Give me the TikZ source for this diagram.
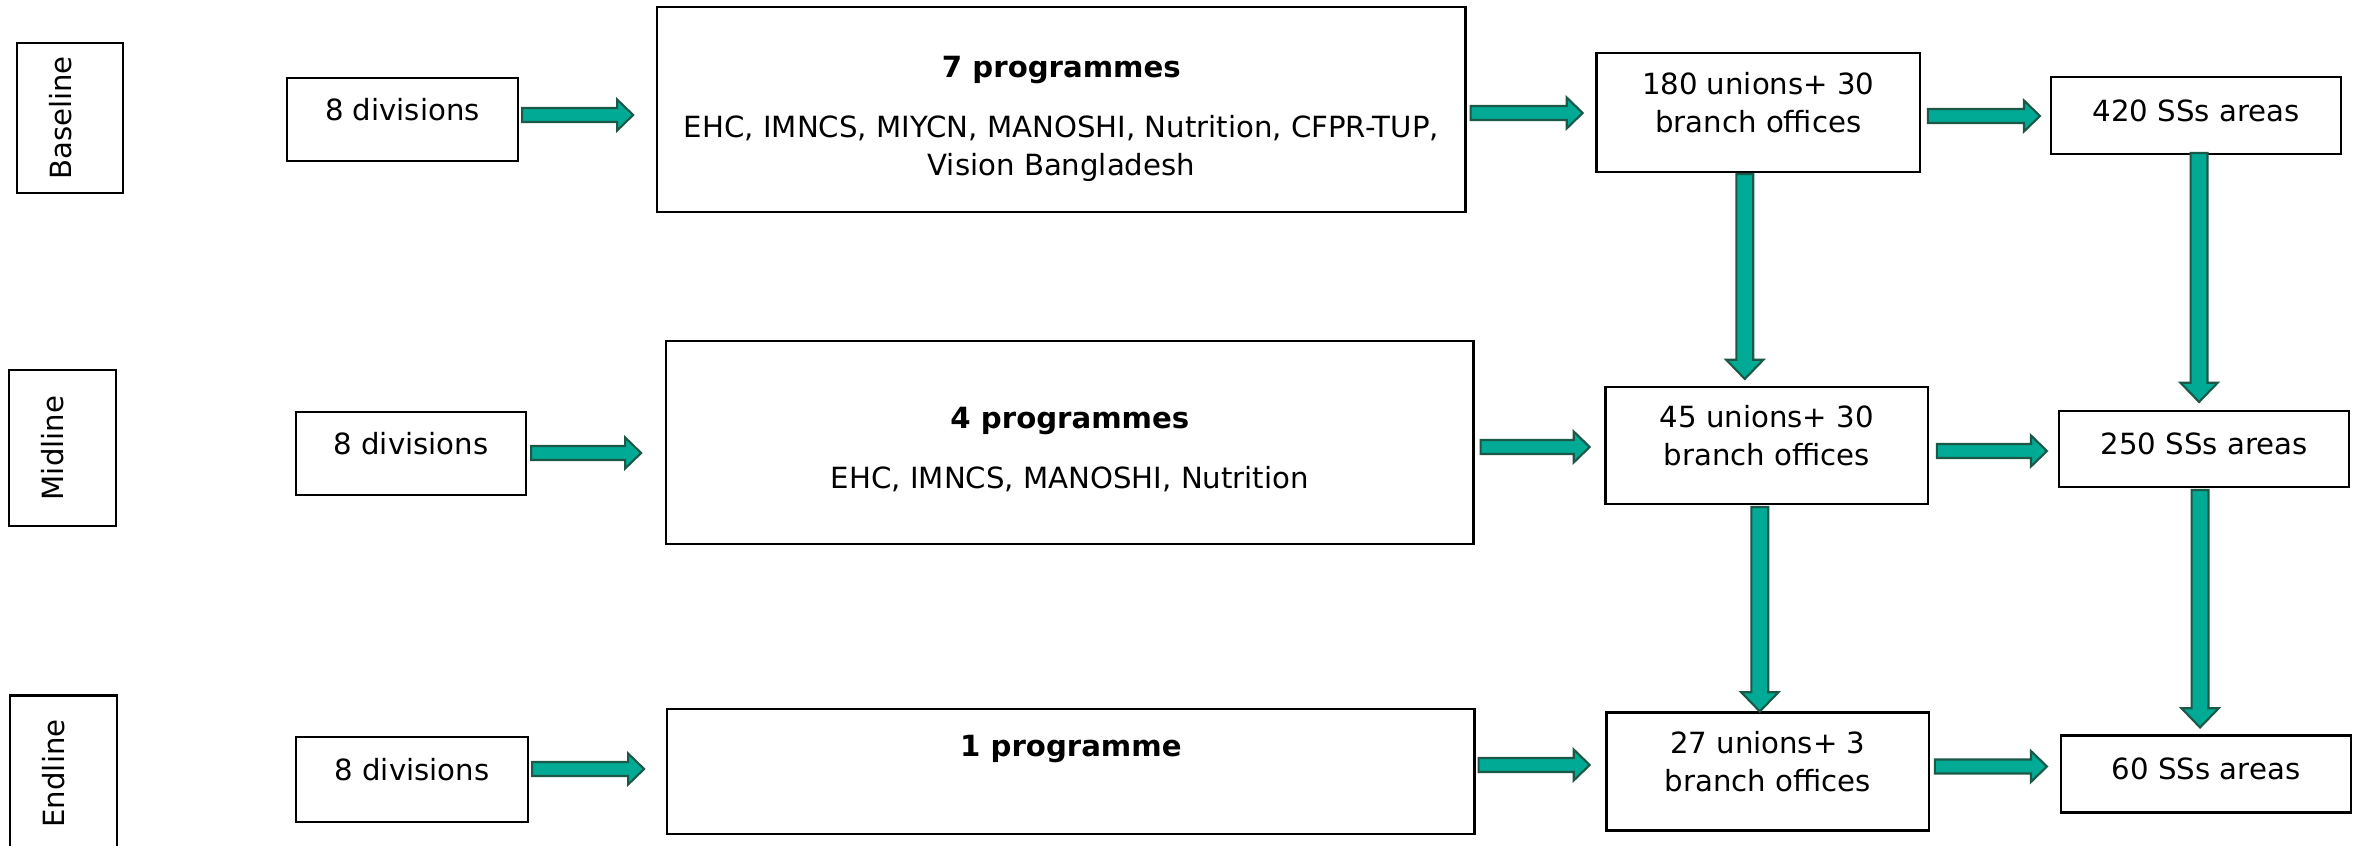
\documentclass[tikz,border=0pt]{standalone}
\usepackage{fontspec}
\setmainfont{DejaVu Sans}
\usetikzlibrary{calc,positioning}
\definecolor{arrteal}{RGB}{0,170,148}
\definecolor{arrdark}{RGB}{28,88,72}

% block arrow between two points, #1 = size factor
\newcommand{\blockarrow}[3][1]{%
  \coordinate (s) at #2;
  \coordinate (t) at #3;
  \coordinate (h) at ($(t)!#1*0.16cm!(s)$);
  \filldraw[blockarr] ($(s)!#1*0.07cm!90:(t)$) -- ($(h)!#1*0.07cm!-90:(s)$) -- ($(h)!#1*0.155cm!-90:(s)$) -- (t)
    -- ($(h)!#1*0.155cm!90:(s)$) -- ($(h)!#1*0.07cm!90:(s)$) -- ($(s)!#1*0.07cm!-90:(t)$) -- cycle;
}

\begin{document}
\begin{tikzpicture}[x=0.01cm, y=-0.01cm, font=\fontsize{8.3}{10.7}\selectfont,
  box/.style={draw, line width=0.7pt, align=center, inner sep=2pt, outer sep=0pt},
  unit/.style={box, text depth=5.7pt},
  area/.style={box, text depth=2.9pt},
  stage/.style={unit, rotate=90, minimum width=1.56cm, minimum height=1.07cm},
  blockarr/.style={fill=arrteal, draw=arrdark, line width=0.6pt}]
\useasboundingbox (0,0) rectangle (2358,846);

% baseline
\node[stage, minimum width=1.5cm, minimum height=1.06cm] (lab1) at (70,118) {Baseline};
\node[unit, minimum width=2.31cm, minimum height=0.83cm] (div1) at (402.5,119.5) {8 divisions};
\node[box, minimum width=8.08cm, minimum height=2.05cm, right=1.39cm of div1, yshift=0.1cm] (prog1)
  {\rule{0pt}{11.2pt}\textbf{7 programmes}\\[6.4pt] EHC, IMNCS, MIYCN, MANOSHI, Nutrition, CFPR-TUP,\\ Vision Bangladesh};
\node[unit, minimum width=3.23cm, minimum height=1.19cm, right=1.31cm of prog1, yshift=-0.03cm] (uni1) {180 unions+ 30\\branch offices};
\node[area, minimum width=2.9cm, minimum height=0.77cm, right=1.31cm of uni1, yshift=-0.03cm] (ss1) {420 SSs areas};

% midline
\node[stage] (lab2) at (62.5,448) {Midline};
\node[unit, minimum width=2.3cm, minimum height=0.83cm] (div2) at (411,453.5) {8 divisions};
\node[box, minimum width=8.07cm, minimum height=2.03cm, right=1.4cm of div2, yshift=0.11cm] (prog2)
  {\rule{0pt}{10pt}\textbf{4 programmes}\\[6.2pt] EHC, IMNCS, MANOSHI, Nutrition};
\node[unit, minimum width=3.22cm, minimum height=1.17cm, right=1.32cm of prog2, yshift=-0.03cm] (uni2) {45 unions+ 30\\branch offices};
\node[area, minimum width=2.9cm, minimum height=0.76cm, right=1.31cm of uni2, yshift=-0.035cm] (ss2) {250 SSs areas};

% endline
\node[stage] (lab3) at (63.5,773.5) {Endline};
\node[unit, minimum width=2.32cm, minimum height=0.85cm] (div3) at (412,779.5) {8 divisions};
\node[box, minimum width=8.07cm, minimum height=1.25cm, right=1.39cm of div3, yshift=0.08cm] (prog3)
  {\textbf{1 programme}\\[3.6pt]\mbox{}};
\node[unit, minimum width=3.22cm, minimum height=1.18cm, right=1.32cm of prog3] (uni3) {27 unions+ 3\\branch offices};
\node[area, minimum width=2.9cm, minimum height=0.77cm, right=1.32cm of uni3, yshift=-0.025cm] (ss3) {60 SSs areas};

% arrows along the rows
\blockarrow{($(div1.east)+(4,-4.5)$)}{($(prog1.west |- div1.east)+(-24,-4.5)$)}
\blockarrow{($(prog1.east)+(5,3.5)$)}{($(uni1.west |- prog1.east)+(-14,3.5)$)}
\blockarrow{($(uni1.east)+(8,3.5)$)}{($(ss1.west |- uni1.east)+(-11,3.5)$)}
\blockarrow{($(div2.east)+(5,-0.5)$)}{($(prog2.west |- div2.east)+(-25,-0.5)$)}
\blockarrow{($(prog2.east)+(7,4.5)$)}{($(uni2.west |- prog2.east)+(-16,4.5)$)}
\blockarrow{($(uni2.east)+(9,5.5)$)}{($(ss2.west |- uni2.east)+(-12,5.5)$)}
\blockarrow{($(div3.east)+(4,-10.5)$)}{($(prog3.west |- div3.east)+(-23,-10.5)$)}
\blockarrow{($(prog3.east)+(4,-6.5)$)}{($(uni3.west |- prog3.east)+(-17,-6.5)$)}
\blockarrow{($(uni3.east)+(6,-5)$)}{($(ss3.west |- uni3.east)+(-14,-5)$)}

% arrows down the columns
\blockarrow[1.2]{($(uni1.south)+(-13.5,2)$)}{($(uni1.south |- uni2.north)+(-13.5,-8)$)}
\blockarrow[1.2]{($(ss1.south)+(3,-1)$)}{($(ss1.south |- ss2.north)+(3,-9)$)}
\blockarrow[1.2]{($(uni2.south)+(-7,3)$)}{($(uni2.south |- uni3.north)+(-7,-1)$)}
\blockarrow[1.2]{($(ss2.south)+(-4,3)$)}{($(ss2.south |- ss3.north)+(-4,-8)$)}
\end{tikzpicture}
\end{document}
